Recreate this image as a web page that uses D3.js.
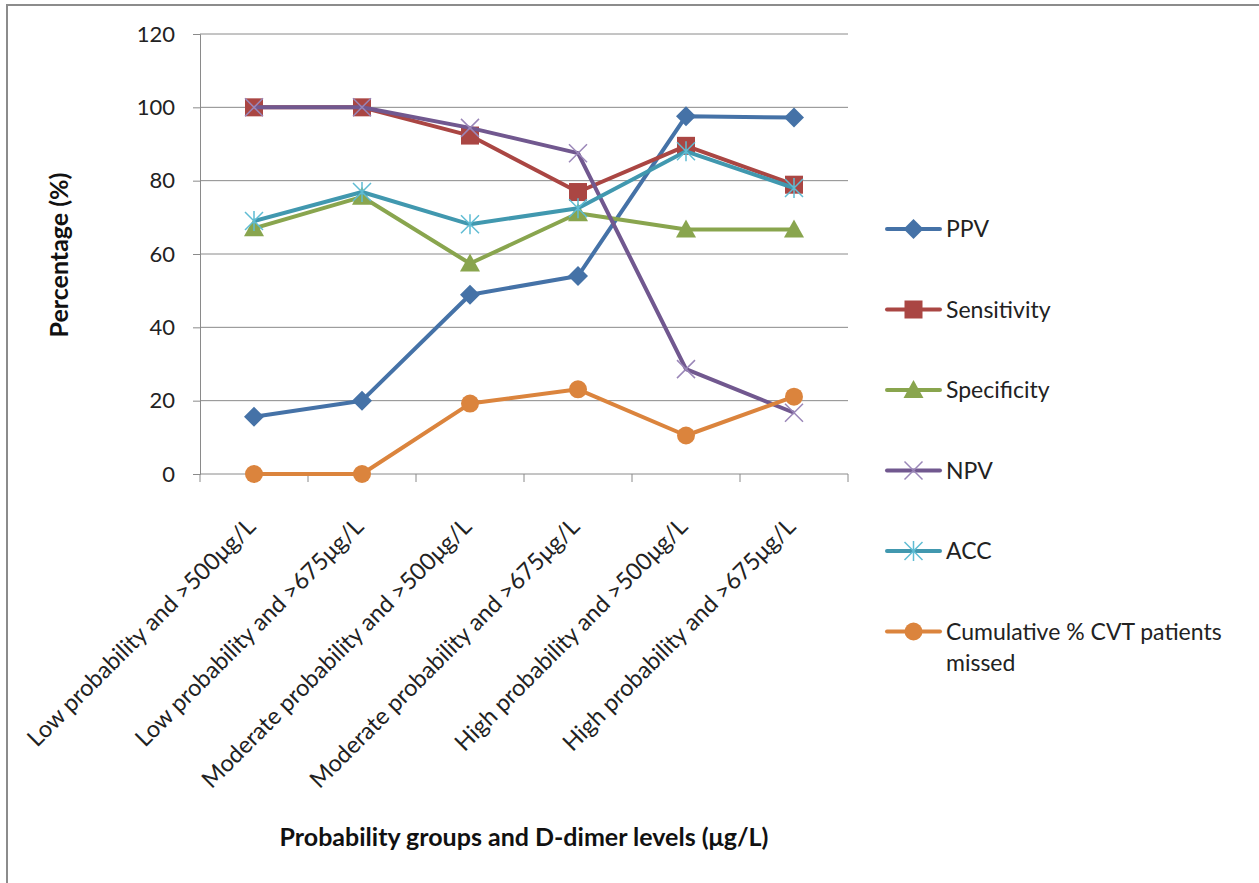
<!DOCTYPE html>
<html>
<head>
<meta charset="utf-8">
<script src="https://cdn.jsdelivr.net/npm/d3@7/dist/d3.min.js"></script>
<style>
  body { margin: 0; background: #fff; }
  svg { display: block; font-family: Lato, "Open Sans", sans-serif; }
</style>
</head>
<body>
<svg id="chart" width="1259" height="883"></svg>
<script>
// Diagnostic performance by probability group and D-dimer cut-off
const categories = [
  "Low probability and >500μg/L",
  "Low probability and >675μg/L",
  "Moderate probability and >500μg/L",
  "Moderate probability and >675μg/L",
  "High probability and >500μg/L",
  "High probability and >675μg/L"
];
const ppv = [15.6, 20.0, 48.9, 54.0, 97.6, 97.2];
const sensitivity = [100, 100, 92.3, 76.9, 89.5, 78.9];
const specificity = [67.0, 75.6, 57.4, 71.1, 66.7, 66.7];
const npv = [100, 100, 94.4, 87.5, 28.6, 16.7];
const acc = [69.0, 76.9, 68.1, 72.5, 88.0, 78.0];
const cvtMissed = [0, 0, 19.2, 23.1, 10.5, 21.1];
const yTicks = [0, 20, 40, 60, 80, 100, 120];

const series = [
  { name: "PPV", values: ppv, color: "#4572A7", marker: "diamond" },
  { name: "Sensitivity", values: sensitivity, color: "#AA4643", marker: "square" },
  { name: "Specificity", values: specificity, color: "#89A54E", marker: "triangle" },
  { name: "NPV", values: npv, color: "#71588F", marker: "x", mcolor: "#9A86B8" },
  { name: "ACC", values: acc, color: "#4198AF", marker: "star", mcolor: "#5FBCD3" },
  { name: "Cumulative % CVT patients|missed", values: cvtMissed, color: "#DB843D", marker: "circle" }
];

const svg = d3.select("#chart");
const plot = { left: 200, right: 848, top: 34, bottom: 474 };

// Outer chart frame
svg.append("rect")
  .attr("x", 7).attr("y", 5).attr("width", 1270).attr("height", 900)
  .attr("fill", "none").attr("stroke", "#8c8c8c").attr("stroke-width", 2);

const x = d3.scaleBand().domain(categories).range([plot.left, plot.right]).padding(0);
const y = d3.scaleLinear().domain([0, 120]).range([plot.bottom, plot.top]);

// Horizontal gridlines
svg.append("g").selectAll("line").data(yTicks.filter(d => d > 0)).join("line")
  .attr("x1", plot.left).attr("x2", plot.right)
  .attr("y1", d => y(d)).attr("y2", d => y(d))
  .attr("stroke", "#8a8a8a").attr("stroke-width", 1);

// Y axis
const yAxis = svg.append("g").attr("transform", `translate(${plot.left},0)`)
  .call(d3.axisLeft(y).tickValues(yTicks).tickSize(7).tickPadding(18));
yAxis.select(".domain").attr("stroke", "#8a8a8a");
yAxis.selectAll(".tick line").attr("stroke", "#8a8a8a");
yAxis.selectAll(".tick text").attr("font-size", 22).attr("fill", "#222")
  .attr("font-family", "Lato, sans-serif");

// X axis with ticks between categories
const xAxisG = svg.append("g");
xAxisG.append("line")
  .attr("x1", plot.left).attr("x2", plot.right)
  .attr("y1", plot.bottom).attr("y2", plot.bottom)
  .attr("stroke", "#8a8a8a");
const bounds = categories.map(c => x(c)).concat([x(categories[categories.length - 1]) + x.bandwidth()]);
xAxisG.selectAll("line.tk").data(bounds).join("line").attr("class", "tk")
  .attr("x1", d => d).attr("x2", d => d)
  .attr("y1", plot.bottom).attr("y2", plot.bottom + 8)
  .attr("stroke", "#8a8a8a");
xAxisG.selectAll("text").data(categories).join("text")
  .attr("transform", d => `translate(${x(d) + x.bandwidth() / 2 + 3},${plot.bottom + 54}) rotate(-45)`)
  .attr("text-anchor", "end")
  .attr("font-size", 23.5).attr("fill", "#222")
  .text(d => d);

// Axis titles
svg.append("text")
  .attr("transform", `translate(68,255) rotate(-90)`)
  .attr("text-anchor", "middle").attr("font-size", 25).attr("font-weight", "bold")
  .attr("fill", "#111").text("Percentage (%)");
svg.append("text")
  .attr("x", 524).attr("y", 846)
  .attr("text-anchor", "middle").attr("font-size", 25).attr("font-weight", "bold")
  .attr("fill", "#111").text("Probability groups and D-dimer levels (μg/L)");

// Marker shapes
function drawMarker(g, type, cx, cy, color, mcolor) {
  if (type === "diamond") {
    g.append("path").attr("d", `M${cx},${cy - 10}L${cx + 10},${cy}L${cx},${cy + 10}L${cx - 10},${cy}Z`).attr("fill", color);
  } else if (type === "square") {
    g.append("rect").attr("x", cx - 9).attr("y", cy - 9).attr("width", 18).attr("height", 18).attr("fill", color);
  } else if (type === "triangle") {
    g.append("path").attr("d", `M${cx},${cy - 10}L${cx + 10},${cy + 8}L${cx - 10},${cy + 8}Z`).attr("fill", color);
  } else if (type === "circle") {
    g.append("circle").attr("cx", cx).attr("cy", cy).attr("r", 9).attr("fill", color);
  } else if (type === "x") {
    g.append("path").attr("d", `M${cx - 9},${cy - 9}L${cx + 9},${cy + 9}M${cx - 9},${cy + 9}L${cx + 9},${cy - 9}`)
      .attr("stroke", mcolor).attr("stroke-width", 1.5).attr("fill", "none");
  } else if (type === "star") {
    g.append("path").attr("d", `M${cx - 9},${cy - 9}L${cx + 9},${cy + 9}M${cx - 9},${cy + 9}L${cx + 9},${cy - 9}M${cx},${cy - 10}L${cx},${cy + 10}`)
      .attr("stroke", mcolor).attr("stroke-width", 1.5).attr("fill", "none");
  }
}

const line = d3.line().x((d, i) => x(categories[i]) + x.bandwidth() / 2).y(d => y(d));

// Series lines and markers
series.forEach(s => {
  const g = svg.append("g");
  g.append("path").datum(s.values).attr("d", line)
    .attr("fill", "none").attr("stroke", s.color).attr("stroke-width", 4)
    .attr("stroke-linejoin", "round");
  s.values.forEach((v, i) => {
    drawMarker(g, s.marker, x(categories[i]) + x.bandwidth() / 2, y(v), s.color, s.mcolor);
  });
});

// Legend
const legend = svg.append("g");
series.forEach((s, i) => {
  const ly = 229 + i * 80.5;
  const g = legend.append("g");
  g.append("line").attr("x1", 887).attr("x2", 940).attr("y1", ly).attr("y2", ly)
    .attr("stroke", s.color).attr("stroke-width", 4).attr("stroke-linecap", "round");
  drawMarker(g, s.marker, 913.5, ly, s.color, s.mcolor);
  const t = g.append("text").attr("x", 946).attr("y", ly + 8).attr("font-size", 23).attr("fill", "#222");
  s.name.split("|").forEach((part, k) => {
    t.append("tspan").attr("x", 946).attr("dy", k === 0 ? 0 : 31).text(part);
  });
});
</script>
</body>
</html>
